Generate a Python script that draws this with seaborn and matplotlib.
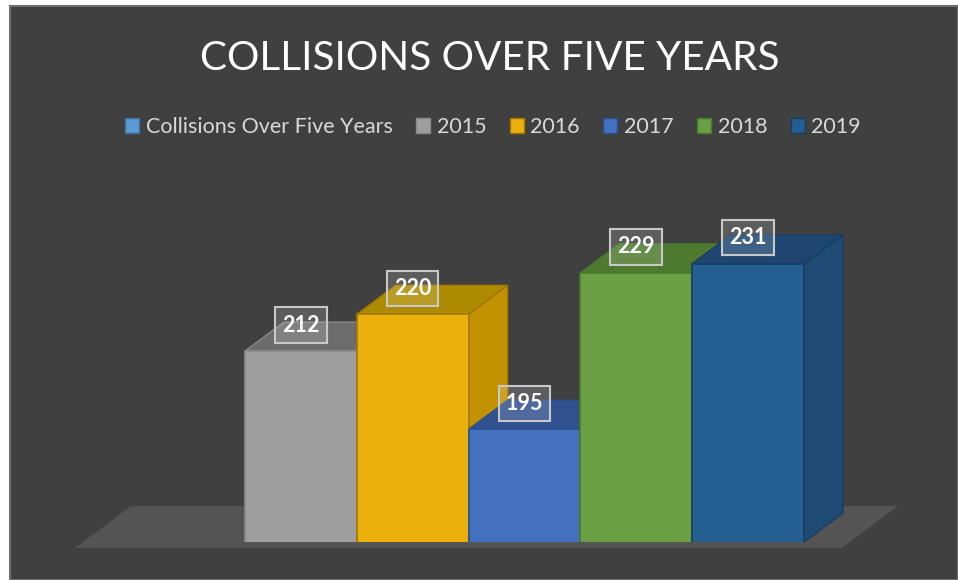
import numpy as np
import pandas as pd
import matplotlib
matplotlib.use('Agg')
import matplotlib.pyplot as plt
import seaborn as sns
from matplotlib.patches import Rectangle, Polygon, Patch

# ---------------------------------------------------
# datos del grafico
# ---------------------------------------------------
TITLE = 'COLLISIONS OVER FIVE YEARS'
SERIES_NAME = 'Collisions Over Five Years'
YEARS = ['2015', '2016', '2017', '2018', '2019']
COLLISIONS = [212, 220, 195, 229, 231]
FRONT_COLORS = ['#9e9e9e', '#ecb00c', '#4470c0', '#6aa043', '#255e91']
SIDE_COLORS = ['#858585', '#c39200', '#3a5fa2', '#568a35', '#1f4a74']
TOP_COLORS = ['#6c6c6c', '#ad8a00', '#31518f', '#4d7a2f', '#1e4670']
EDGE_COLORS = ['#8a8a8a', '#a07800', '#2c4e8c', '#4a7a2c', '#173d62']
SERIES_COLOR = '#5b9bd5'
# ---------------------------------------------------

W, H = 958, 580
PX_X = 111.8      # pixeles por categoria
PX_Y = 4.6        # pixeles por unidad
BASE = 170.5      # valor en el suelo
BOTTOM_PX = 38    # altura del suelo desde abajo (px)

sns.set_theme(style='white')
plt.rcParams['font.family'] = ['Lato', 'DejaVu Sans']

fig = plt.figure(figsize=(W / 100, H / 100), dpi=100)
fig.patch.set_facecolor('white')
fig.patches.append(Rectangle((10 / W, 0), (W - 10) / W, (H - 6) / H,
                             transform=fig.transFigure, facecolor='#404040',
                             edgecolor='#6e6e6e', linewidth=1.5, zorder=-5))

ax = fig.add_axes([0, BOTTOM_PX / H, 1, (H - BOTTOM_PX) / H])
ax.patch.set_alpha(0)
df = pd.DataFrame({'year': YEARS, 'value': COLLISIONS})
sns.barplot(data=df, x='year', y='value', hue='year', palette=FRONT_COLORS,
            width=1.0, saturation=1, legend=False, ax=ax)
bars = list(ax.patches)

x_left = -0.5 - 245 / PX_X
ax.set_xlim(x_left, x_left + W / PX_X)
ax.set_ylim(BASE, BASE + (H - BOTTOM_PX) / PX_Y)
ax.axis('off')

dx = 39 / PX_X
dy = 29 / PX_Y

# suelo
floor = Polygon([(-0.5 - 170 / PX_X, BASE - 6 / PX_Y),
                 (-0.5 + 597 / PX_X, BASE - 6 / PX_Y),
                 (-0.5 + 653 / PX_X, BASE + 36 / PX_Y),
                 (-0.5 - 114 / PX_X, BASE + 36 / PX_Y)],
                closed=True, facecolor='#545454', edgecolor='none',
                clip_on=False, zorder=0.2)
ax.add_patch(floor)

# caras laterales y superiores
for i, v in enumerate(COLLISIONS):
    x0, x1 = i - 0.5, i + 0.5
    side = Polygon([(x1, BASE), (x1 + dx, BASE + dy), (x1 + dx, v + dy), (x1, v)],
                   closed=True, facecolor=SIDE_COLORS[i], edgecolor=EDGE_COLORS[i],
                   linewidth=1, clip_on=False, zorder=0.5 + i * 0.1)
    top = Polygon([(x0, v), (x0 + dx, v + dy), (x1 + dx, v + dy), (x1, v)],
                  closed=True, facecolor=TOP_COLORS[i], edgecolor=EDGE_COLORS[i],
                  linewidth=1, clip_on=False, zorder=0.55 + i * 0.1)
    ax.add_patch(side)
    ax.add_patch(top)

for i, b in enumerate(bars):
    b.set_edgecolor(EDGE_COLORS[i])
    b.set_linewidth(1.2)
    b.set_zorder(2)

# etiquetas
for i, v in enumerate(COLLISIONS):
    ax.text(i, v + 26 / PX_Y, str(v), ha='center', va='center', color='white',
            fontsize=15.5, fontweight='bold', zorder=3, clip_on=False,
            bbox=dict(boxstyle='square,pad=0.33', facecolor=(1, 1, 1, 0.15),
                      edgecolor='#c8c8c8', linewidth=1.5))

fig.text(490 / W, 1 - 58 / H, TITLE, ha='center', va='center', color='white',
         fontsize=29.2)

handles = [Patch(facecolor=SERIES_COLOR, edgecolor='#3f6f9c', label=SERIES_NAME)]
handles += [Patch(facecolor=c, edgecolor=e, label=y)
            for y, c, e in zip(YEARS, FRONT_COLORS, EDGE_COLORS)]
fig.legend(handles=handles, loc='center', bbox_to_anchor=(493 / W, 1 - 127 / H),
           ncol=6, frameon=False, fontsize=15.5, labelcolor='#d9d9d9',
           handlelength=0.65, handleheight=0.65, handletextpad=0.3,
           columnspacing=1.1)

fig.savefig('out.png', dpi=100, facecolor=fig.get_facecolor())
